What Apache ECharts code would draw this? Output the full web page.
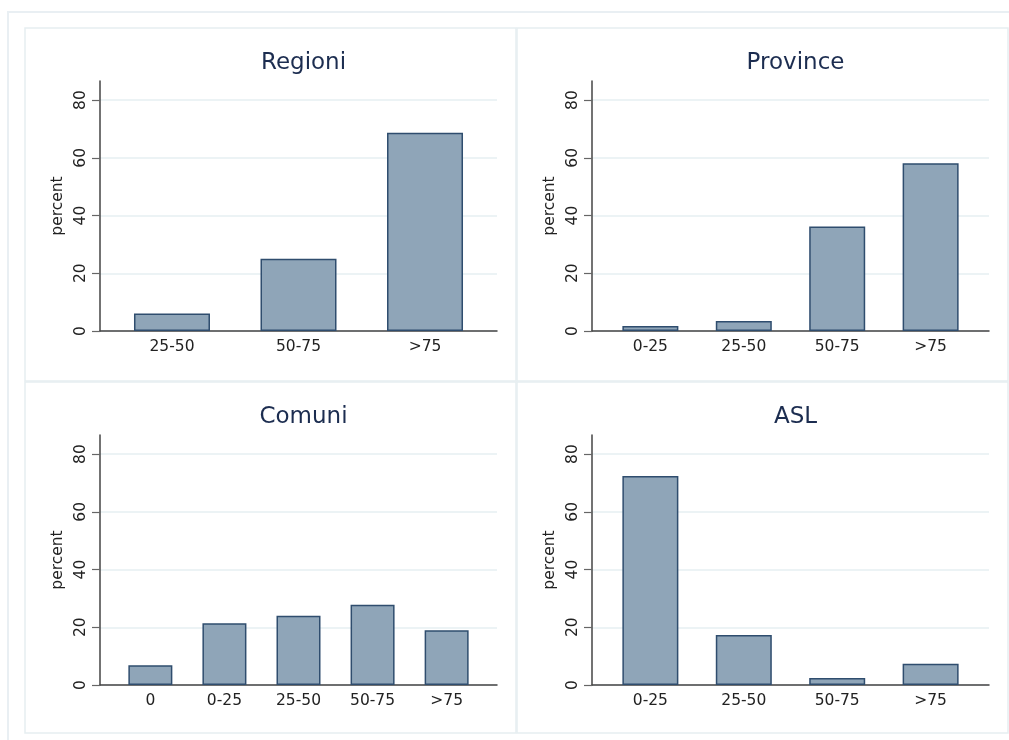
<!DOCTYPE html>
<html>
<head>
<meta charset="utf-8">
<script src="https://cdn.jsdelivr.net/npm/echarts@6/dist/echarts.min.js"></script>
<style>
html,body{margin:0;padding:0;background:#fff;}
#chart{width:1009px;height:740px;}
</style>
</head>
<body>
<div id="chart"></div>
<script>
// ---- data ----
const titles = ['Regioni', 'Province', 'Comuni', 'ASL'];
const categoriesRegioni = ['25-50', '50-75', '>75'];
const valuesRegioni = [6.1, 25.0, 68.7];
const categoriesProvince = ['0-25', '25-50', '50-75', '>75'];
const valuesProvince = [1.7, 3.5, 36.2, 58.1];
const categoriesComuni = ['0', '0-25', '25-50', '50-75', '>75'];
const valuesComuni = [6.8, 21.4, 24.0, 27.8, 19.0];
const categoriesASL = ['0-25', '25-50', '50-75', '>75'];
const valuesASL = [72.4, 17.3, 2.4, 7.4];
const yTicks = [0, 20, 40, 60, 80];
const yAxisName = 'percent';

// ---- layout ----
const FONT = 'DejaVu Sans';
const panels = [
  {cats: categoriesRegioni, vals: valuesRegioni, left: 100, right: 512, top: 81, bottom: 409, margin: 0.069, barWidth: 76},
  {cats: categoriesProvince, vals: valuesProvince, left: 592, right: 20, top: 81, bottom: 409, margin: 0.125, barWidth: 56},
  {cats: categoriesComuni, vals: valuesComuni, left: 100, right: 512, top: 435, bottom: 55, margin: 0.18, barWidth: 44},
  {cats: categoriesASL, vals: valuesASL, left: 592, right: 20, top: 435, bottom: 55, margin: 0.125, barWidth: 56}
];

const chart = echarts.init(document.getElementById('chart'), null, {renderer: 'canvas'});

const grid = [], xAxis = [], yAxis = [], series = [], title = [];
panels.forEach((p, i) => {
  const n = p.cats.length;
  grid.push({left: p.left, right: p.right, top: p.top, bottom: p.bottom, containLabel: false});
  const plotCenter = p.left + (1009 - p.right - p.left) / 2;
  title.push({
    text: titles[i], left: plotCenter, textAlign: 'center', top: p.top - 34,
    textStyle: {fontFamily: FONT, fontSize: 23, fontWeight: 'normal', color: '#1c2d50'}
  });
  xAxis.push({
    type: 'value', gridIndex: i, min: -0.5 - p.margin, max: n - 0.5 + p.margin,
    axisLine: {show: true, onZero: false, lineStyle: {color: '#444', width: 1.5}},
    axisTick: {show: false},
    splitLine: {show: false},
    axisLabel: {
      customValues: p.cats.map((c, k) => k),
      formatter: v => p.cats[Math.round(v)],
      fontFamily: FONT, fontSize: 15.5, color: '#222', margin: 8
    }
  });
  yAxis.push({
    type: 'value', gridIndex: i, min: 0, max: 86.6,
    name: yAxisName, nameLocation: 'middle', nameGap: 34, nameRotate: 90,
    nameTextStyle: {fontFamily: FONT, fontSize: 15.5, color: '#222'},
    axisLine: {show: true, onZero: false, lineStyle: {color: '#444', width: 1.5}},
    axisTick: {show: true, length: 8, customValues: yTicks, lineStyle: {color: '#666', width: 1.2}},
    axisLabel: {customValues: yTicks, rotate: 90, fontFamily: FONT, fontSize: 15.5, color: '#222', margin: 11},
    splitLine: {show: true, lineStyle: {color: '#e6eff2', width: 1.5}}
  });
  series.push({
    type: 'bar', xAxisIndex: i, yAxisIndex: i,
    data: p.vals.map((v, k) => [k, v]),
    barWidth: p.barWidth,
    itemStyle: {color: '#8fa5b8', borderColor: '#2f4d6e', borderWidth: 1.5},
    emphasis: {disabled: true},
    animation: false
  });
});

const borderColor = '#e6eef1';
const graphic = [
  {type: 'rect', shape: {x: 8, y: 12, width: 1010, height: 740}, style: {fill: 'none', stroke: '#e9eff3', lineWidth: 2}, silent: true},
  {type: 'rect', shape: {x: 25, y: 28, width: 491, height: 353}, style: {fill: 'none', stroke: borderColor, lineWidth: 1.5}, silent: true},
  {type: 'rect', shape: {x: 517, y: 28, width: 491, height: 353}, style: {fill: 'none', stroke: borderColor, lineWidth: 1.5}, silent: true},
  {type: 'rect', shape: {x: 25, y: 382, width: 491, height: 351}, style: {fill: 'none', stroke: borderColor, lineWidth: 1.5}, silent: true},
  {type: 'rect', shape: {x: 517, y: 382, width: 491, height: 351}, style: {fill: 'none', stroke: borderColor, lineWidth: 1.5}, silent: true}
];

chart.setOption({
  backgroundColor: '#ffffff',
  animation: false,
  title, grid, xAxis, yAxis, series, graphic
});
</script>
</body>
</html>
